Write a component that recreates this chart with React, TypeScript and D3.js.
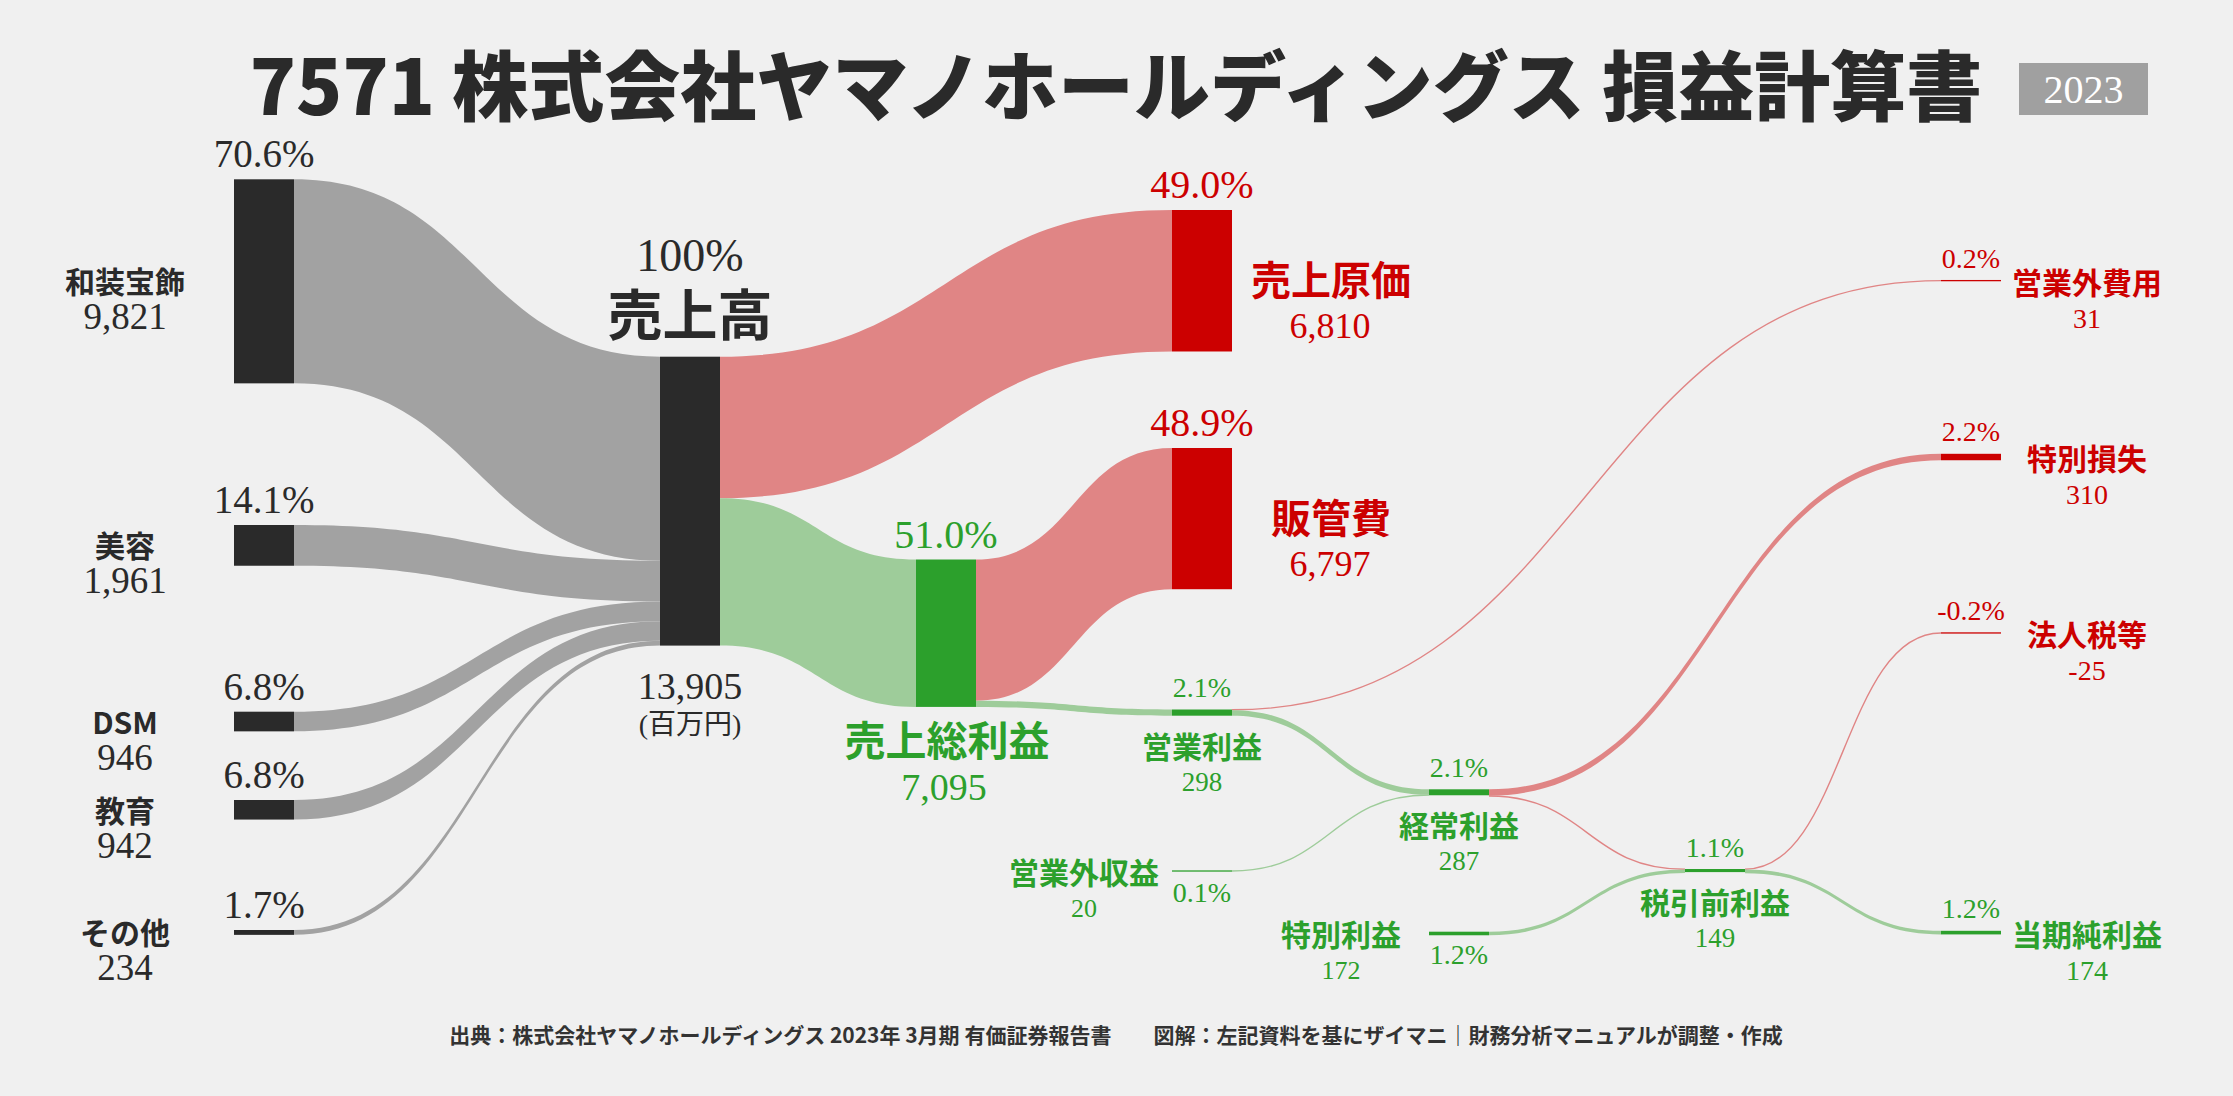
import React from 'react';
import * as d3 from 'd3';

// ---------------- data ----------------
const titleText = '7571 株式会社ヤマノホールディングス 損益計算書';
const yearText = '2023';
const footerText = '出典：株式会社ヤマノホールディングス 2023年 3月期 有価証券報告書　　図解：左記資料を基にザイマニ｜財務分析マニュアルが調整・作成';

const segmentNames = ['和装宝飾', '美容', 'DSM', '教育', 'その他'];
const segmentValues = [9821, 1961, 946, 942, 234];
const segmentPcts = ['70.6%', '14.1%', '6.8%', '6.8%', '1.7%'];

const nodeNames = ['売上高', '売上原価', '売上総利益', '販管費', '営業利益', '営業外収益', '営業外費用', '経常利益', '特別利益', '特別損失', '税引前利益', '法人税等', '当期純利益'];
const nodeValues = [13905, 6810, 7095, 6797, 298, 20, 31, 287, 172, 310, 149, -25, 174];
const nodePcts = ['100%', '49.0%', '51.0%', '48.9%', '2.1%', '0.1%', '0.2%', '2.1%', '1.2%', '2.2%', '1.1%', '-0.2%', '1.2%'];
const nodeKinds = ['total', 'cost', 'profit', 'cost', 'profit', 'profit', 'cost', 'profit', 'profit', 'cost', 'profit', 'cost', 'profit'];

const linkSources = ['和装宝飾', '美容', 'DSM', '教育', 'その他', '売上高', '売上高', '売上総利益', '売上総利益', '営業利益', '営業利益', '営業外収益', '経常利益', '経常利益', '特別利益', '税引前利益', '税引前利益'];
const linkTargets = ['売上高', '売上高', '売上高', '売上高', '売上高', '売上原価', '売上総利益', '販管費', '営業利益', '営業外費用', '経常利益', '経常利益', '特別損失', '税引前利益', '税引前利益', '法人税等', '当期純利益'];
const linkValues = [9821, 1961, 946, 942, 234, 6810, 7095, 6797, 298, 31, 267, 20, 310, -23, 172, -25, 174];
const linkKinds = ['seg', 'seg', 'seg', 'seg', 'seg', 'cost', 'profit', 'cost', 'profit', 'cost', 'profit', 'profit', 'cost', 'cost', 'profit', 'cost', 'profit'];

// ---------------- layout / style ----------------
const W = 2233;
const H = 1096;
const BAR_W = 60;
const colX = [234, 660, 916, 1172, 1429, 1685, 1941];

type Lay = { col: number; top: number; label: string };
const layout: Record<string, Lay> = {
  '和装宝飾': { col: 0, top: 179.3, label: 'seg' },
  '美容': { col: 0, top: 525, label: 'seg' },
  'DSM': { col: 0, top: 711.7, label: 'seg' },
  '教育': { col: 0, top: 800, label: 'seg' },
  'その他': { col: 0, top: 930, label: 'seg' },
  '売上高': { col: 1, top: 356.7, label: 'total' },
  '売上原価': { col: 3, top: 210, label: 'side' },
  '販管費': { col: 3, top: 448, label: 'side' },
  '売上総利益': { col: 2, top: 559.5, label: 'gross' },
  '営業利益': { col: 3, top: 709.5, label: 'below' },
  '営業外収益': { col: 3, top: 870.8, label: 'leftside' },
  '経常利益': { col: 4, top: 789.3, label: 'below' },
  '特別利益': { col: 4, top: 931.7, label: 'leftside' },
  '税引前利益': { col: 5, top: 869, label: 'below' },
  '営業外費用': { col: 6, top: 280.3, label: 'right' },
  '特別損失': { col: 6, top: 453.8, label: 'right' },
  '法人税等': { col: 6, top: 632.7, label: 'right' },
  '当期純利益': { col: 6, top: 930.8, label: 'right' },
};

const COL = {
  bg: '#f0f0f0',
  dark: '#2a2a2a',
  red: '#cc0000',
  green: '#2ca02c',
  segLink: '#a2a2a2',
  redLink: '#e08585',
  greenLink: '#9ecc9a',
  yearBox: '#a0a0a0',
};

const SERIF = '"Liberation Serif", "Noto Sans CJK JP", serif';
const SANS = '"Noto Sans CJK JP", "Noto Sans", sans-serif';

const fmt = d3.formatLocale({ decimal: '.', thousands: ',', grouping: [3], currency: ['', ''], minus: '-' }).format(',');

const yScale = d3.scaleLinear().domain([0, 13905]).range([0, 288.9]);

type NodeInfo = { name: string; value: number; pct: string; color: string; x: number; top: number; h: number; label: string };

function buildNodes(): NodeInfo[] {
  const out: NodeInfo[] = [];
  segmentNames.forEach((n, i) => {
    const l = layout[n];
    out.push({ name: n, value: segmentValues[i], pct: segmentPcts[i], color: COL.dark, x: colX[l.col], top: l.top, h: yScale(Math.abs(segmentValues[i])), label: l.label });
  });
  nodeNames.forEach((n, i) => {
    const l = layout[n];
    const kind = nodeKinds[i];
    const color = kind === 'total' ? COL.dark : kind === 'cost' ? COL.red : COL.green;
    out.push({ name: n, value: nodeValues[i], pct: nodePcts[i], color, x: colX[l.col], top: l.top, h: yScale(Math.abs(nodeValues[i])), label: l.label });
  });
  return out;
}

function ribbon(x0: number, s0: number, x1: number, t0: number, w: number) {
  const p = d3.path();
  const xm = (x0 + x1) / 2;
  p.moveTo(x0, s0);
  p.bezierCurveTo(xm, s0, xm, t0, x1, t0);
  p.lineTo(x1, t0 + w);
  p.bezierCurveTo(xm, t0 + w, xm, s0 + w, x0, s0 + w);
  p.closePath();
  return p.toString();
}

const lineGen = d3.linkHorizontal<any, [number, number]>().source((d: any) => d[0]).target((d: any) => d[1]);

const App: React.FC = () => {
  const nodes = buildNodes();
  const byName: Record<string, NodeInfo> = {};
  nodes.forEach((n) => (byName[n.name] = n));

  const outOff: Record<string, number> = {};
  const inOff: Record<string, number> = {};
  const links = linkSources.map((s, i) => {
    const t = linkTargets[i];
    const src = byName[s];
    const tgt = byName[t];
    const w = yScale(Math.abs(linkValues[i]));
    const s0 = src.top + (outOff[s] || 0);
    outOff[s] = (outOff[s] || 0) + w;
    const t0 = tgt.top + (inOff[t] || 0);
    inOff[t] = (inOff[t] || 0) + w;
    const kind = linkKinds[i];
    const color = kind === 'seg' ? COL.segLink : kind === 'cost' ? COL.redLink : COL.greenLink;
    return { x0: src.x + BAR_W, s0, x1: tgt.x, t0, w, color, key: s + '-' + t };
  });

  const labels: React.ReactNode[] = [];
  nodes.forEach((n) => {
    const cx = n.x + BAR_W / 2;
    const cy = n.top + Math.max(n.h, 1.3) / 2;
    const bottom = n.top + Math.max(n.h, 1.3);
    const k = n.name;
    if (n.label === 'seg') {
      labels.push(
        <g key={k}>
          <text x={cx} y={n.top - 12} textAnchor="middle" fontFamily={SERIF} fontSize={39} fill={COL.dark}>{n.pct}</text>
          <text x={125} y={cy - 1} textAnchor="middle" dominantBaseline="central" fontFamily={SANS} fontWeight={700} fontSize={30} fill={COL.dark}>{n.name}</text>
          <text x={125} y={cy + 48} textAnchor="middle" fontFamily={SERIF} fontSize={37} fill={COL.dark}>{fmt(n.value)}</text>
        </g>
      );
    } else if (n.label === 'total') {
      labels.push(
        <g key={k}>
          <text x={cx} y={270.5} textAnchor="middle" fontFamily={SERIF} fontSize={46} fill={COL.dark}>{n.pct}</text>
          <text x={cx} y={311} textAnchor="middle" dominantBaseline="central" fontFamily={SANS} fontWeight={700} fontSize={55} fill={COL.dark}>{n.name}</text>
          <text x={cx} y={bottom + 53} textAnchor="middle" fontFamily={SERIF} fontSize={38} fill={COL.dark}>{fmt(n.value)}</text>
          <text x={cx} y={bottom + 88} textAnchor="middle" fontFamily={SERIF} fontSize={28} fill={COL.dark}>(百万円)</text>
        </g>
      );
    } else if (n.label === 'side') {
      labels.push(
        <g key={k}>
          <text x={cx} y={n.top - 12} textAnchor="middle" fontFamily={SERIF} fontSize={40} fill={n.color}>{n.pct}</text>
          <text x={1331} y={cy - 3} textAnchor="middle" dominantBaseline="central" fontFamily={SANS} fontWeight={700} fontSize={40} fill={n.color}>{n.name}</text>
          <text x={1330} y={cy + 57} textAnchor="middle" fontFamily={SERIF} fontSize={36} fill={n.color}>{fmt(n.value)}</text>
        </g>
      );
    } else if (n.label === 'gross') {
      labels.push(
        <g key={k}>
          <text x={cx} y={n.top - 11.5} textAnchor="middle" fontFamily={SERIF} fontSize={40} fill={n.color}>{n.pct}</text>
          <text x={cx + 1} y={bottom + 31.5} textAnchor="middle" dominantBaseline="central" fontFamily={SANS} fontWeight={700} fontSize={41} fill={n.color}>{n.name}</text>
          <text x={cx - 2} y={bottom + 93} textAnchor="middle" fontFamily={SERIF} fontSize={38} fill={n.color}>{fmt(n.value)}</text>
        </g>
      );
    } else if (n.label === 'below') {
      labels.push(
        <g key={k}>
          <text x={cx} y={n.top - 12.5} textAnchor="middle" fontFamily={SERIF} fontSize={28} fill={n.color}>{n.pct}</text>
          <text x={cx} y={bottom + 29} textAnchor="middle" dominantBaseline="central" fontFamily={SANS} fontWeight={700} fontSize={30} fill={n.color}>{n.name}</text>
          <text x={cx} y={bottom + 75} textAnchor="middle" fontFamily={SERIF} fontSize={27} fill={n.color}>{fmt(n.value)}</text>
        </g>
      );
    } else if (n.label === 'leftside') {
      labels.push(
        <g key={k}>
          <text x={cx} y={cy + 31} textAnchor="middle" fontFamily={SERIF} fontSize={28} fill={n.color}>{n.pct}</text>
          <text x={n.x - 88} y={cy} textAnchor="middle" dominantBaseline="central" fontFamily={SANS} fontWeight={700} fontSize={30} fill={n.color}>{n.name}</text>
          <text x={n.x - 88} y={cy + 46} textAnchor="middle" fontFamily={SERIF} fontSize={26} fill={n.color}>{fmt(n.value)}</text>
        </g>
      );
    } else if (n.label === 'right') {
      labels.push(
        <g key={k}>
          <text x={cx} y={n.top - 12.5} textAnchor="middle" fontFamily={SERIF} fontSize={28} fill={n.color}>{n.pct}</text>
          <text x={2087} y={cy} textAnchor="middle" dominantBaseline="central" fontFamily={SANS} fontWeight={700} fontSize={30} fill={n.color}>{n.name}</text>
          <text x={2087} y={cy + 47} textAnchor="middle" fontFamily={SERIF} fontSize={28} fill={n.color}>{fmt(n.value)}</text>
        </g>
      );
    }
  });

  return (
    <svg width={W} height={H} viewBox={`0 0 ${W} ${H}`} style={{ position: 'absolute', left: 0, top: 0, display: 'block' }}>
      <rect x={0} y={0} width={W} height={H} fill={COL.bg} />
      <text x={1116} y={82} textAnchor="middle" dominantBaseline="central" fontFamily={SANS} fontWeight={900} fontSize={76} fill={COL.dark}>{titleText}</text>
      <rect x={2019} y={63} width={129} height={52} fill={COL.yearBox} />
      <text x={2083.5} y={89} textAnchor="middle" dominantBaseline="central" fontFamily={SERIF} fontSize={40} fill="#ffffff">{yearText}</text>

      <g>
        {links.map((l) =>
          l.w >= 2 ? (
            <path key={l.key} d={ribbon(l.x0, l.s0, l.x1, l.t0, l.w)} fill={l.color} />
          ) : (
            <path key={l.key} d={lineGen([[l.x0, l.s0 + l.w / 2], [l.x1, l.t0 + l.w / 2]] as any) || ''} fill="none" stroke={l.color} strokeWidth={Math.max(l.w, 1.4)} />
          )
        )}
      </g>
      <g>
        {nodes.map((n) => (
          <rect key={n.name} x={n.x} y={n.h < 1.3 ? n.top + n.h / 2 - 0.65 : n.top} width={BAR_W} height={Math.max(n.h, 1.3)} fill={n.color} />
        ))}
      </g>
      <g>{labels}</g>
      <text x={1116} y={1043} textAnchor="middle" fontFamily={SANS} fontWeight={700} fontSize={21} fill="#333333">{footerText}</text>
    </svg>
  );
};

export default App;
